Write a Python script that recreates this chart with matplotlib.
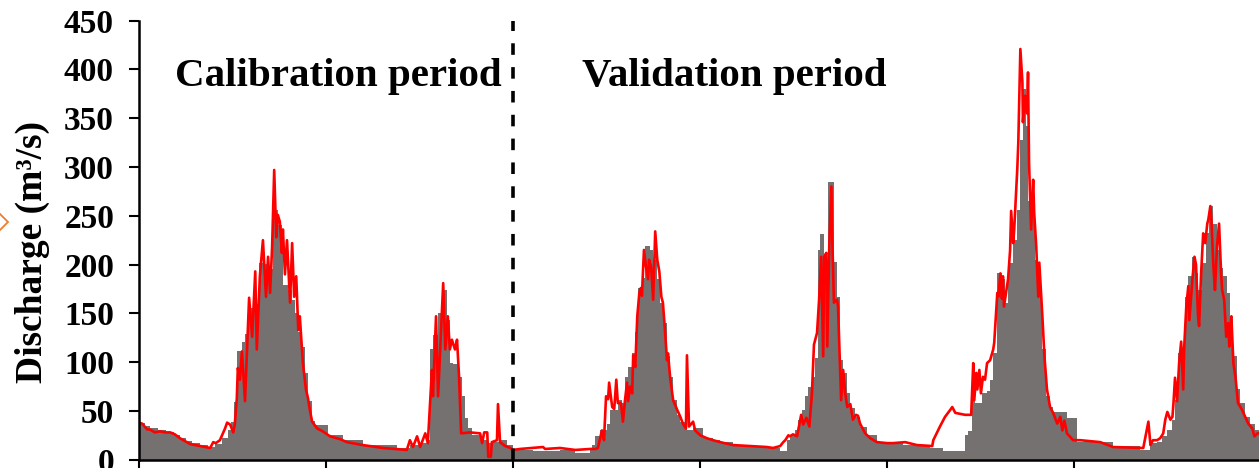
import matplotlib
matplotlib.use("Agg")
import matplotlib.pyplot as plt
from matplotlib.lines import Line2D

# ---------------- data (days since start of record, discharge m3/s) ----------------
obs_start_day = [0, 12, 21, 37, 53, 68, 80, 92, 104, 119, 135, 148, 162, 174, 180, 186,
                 191, 201, 207, 213, 217, 223, 230, 234, 246, 252, 262, 266, 271, 279,
                 281, 291, 299, 305, 311, 318, 324, 330, 338, 344, 369, 398, 437, 504,
                 529, 549, 562, 568, 574, 584, 594, 602, 607, 613, 623, 631, 637, 643,
                 650, 666, 680, 691, 705, 719, 730, 769, 822, 852, 881, 885, 891, 900,
                 914, 920, 935, 943, 949, 955, 963, 969, 975, 982, 988, 998, 1004, 1012,
                 1018, 1023, 1031, 1037, 1043, 1051, 1057, 1070, 1082, 1101, 1121, 1135,
                 1160, 1226, 1252, 1266, 1271, 1281, 1287, 1295, 1301, 1307, 1314, 1320,
                 1326, 1330, 1338, 1346, 1357, 1363, 1369, 1375, 1383, 1389, 1398, 1408,
                 1422, 1441, 1467, 1492, 1545, 1570, 1613, 1619, 1627, 1633, 1646, 1656,
                 1662, 1668, 1676, 1685, 1691, 1697, 1707, 1715, 1721, 1726, 1732, 1736,
                 1744, 1750, 1756, 1764, 1771, 1779, 1785, 1812, 1832, 1902, 1955, 1975,
                 1988, 1998, 2008, 2017, 2023, 2029, 2037, 2043, 2049, 2057, 2062, 2068,
                 2076, 2084, 2090, 2098, 2105, 2111, 2117, 2125, 2131, 2137, 2144, 2150,
                 2160, 2170, 2180]
obs_flow = [38, 35, 32, 30, 28, 25, 22, 19, 17, 15, 13, 16, 22, 30, 39, 59,
            111, 121, 129, 152, 156, 158, 160, 202, 201, 195, 297, 256, 241, 215,
            179, 174, 164, 150, 131, 116, 89, 60, 40, 36, 25, 20, 15, 12,
            15, 17, 20, 113, 128, 150, 174, 143, 99, 98, 85, 65, 43, 32,
            25, 20, 17, 18, 20, 15, 10, 9, 10, 7, 10, 15, 24, 30,
            37, 51, 61, 58, 85, 95, 109, 131, 176, 186, 219, 215, 205, 185,
            161, 140, 106, 85, 61, 46, 39, 30, 32, 22, 20, 18,
            14, 12, 9, 20, 24, 30, 41, 51, 65, 75, 85, 104,
            215, 231, 205, 285, 203, 167, 102, 89, 68, 53, 44, 34,
            25, 18, 17, 15, 12, 9, 25, 29, 61, 58, 68, 70,
            82, 109, 191, 185, 161, 202, 225, 256, 328, 380, 342, 265,
            250, 205, 167, 113, 65, 54, 49, 43, 18, 14, 10, 17,
            18, 24, 30, 41, 61, 109, 116, 167, 188, 208, 191, 174,
            202, 232, 260, 242, 215, 196, 188, 171, 147, 106, 72, 58,
            44, 37, 30]
record_end_day = 2191

sim_day = [0, 6, 16, 21, 31, 41, 51, 61, 70, 80, 90, 100, 119, 139, 145, 150, 158,
           168, 172, 178, 184, 187, 191, 193, 197, 201, 207, 215, 221, 227, 230, 236,
           242, 248, 252, 256, 260, 264, 268, 271, 275, 279, 281, 285, 289, 295, 299,
           303, 307, 311, 314, 320, 326, 330, 334, 338, 348, 359, 373, 393, 406, 437,
           477, 523, 529, 535, 543, 549, 559, 564, 572, 574, 580, 584, 594, 598, 603,
           607, 611, 617, 621, 625, 629, 646, 666, 670, 674, 680, 682, 687, 689, 699,
           701, 705, 715, 725, 730, 744, 789, 793, 822, 852, 881, 891, 896, 904, 908,
           912, 916, 918, 924, 928, 932, 935, 941, 945, 949, 953, 955, 959, 963, 965,
           969, 973, 977, 980, 982, 986, 990, 994, 996, 1000, 1004, 1008, 1012, 1016,
           1020, 1023, 1027, 1031, 1033, 1037, 1043, 1051, 1057, 1062, 1068, 1070, 1074,
           1082, 1086, 1096, 1109, 1121, 1135, 1160, 1226, 1238, 1252, 1258, 1262, 1268,
           1271, 1277, 1285, 1293, 1297, 1303, 1309, 1314, 1318, 1324, 1328, 1332, 1336,
           1338, 1342, 1344, 1348, 1352, 1354, 1357, 1363, 1365, 1371, 1375, 1379, 1383,
           1389, 1394, 1400, 1404, 1408, 1418, 1428, 1441, 1461, 1473, 1496, 1519, 1549,
           1551, 1564, 1574, 1584, 1588, 1594, 1603, 1613, 1625, 1629, 1631, 1635, 1637,
           1641, 1644, 1648, 1652, 1656, 1662, 1668, 1670, 1676, 1678, 1682, 1685, 1687,
           1689, 1695, 1697, 1701, 1703, 1707, 1709, 1715, 1717, 1721, 1725, 1726, 1730,
           1734, 1736, 1738, 1742, 1746, 1748, 1752, 1756, 1758, 1764, 1768, 1773, 1779,
           1785, 1793, 1799, 1803, 1807, 1812, 1824, 1838, 1857, 1877, 1902, 1961, 1971,
           1975, 1980, 1988, 1994, 2000, 2004, 2008, 2014, 2018, 2020, 2023, 2027, 2031,
           2035, 2039, 2041, 2045, 2049, 2051, 2057, 2061, 2064, 2068, 2070, 2074, 2078,
           2082, 2086, 2088, 2092, 2094, 2098, 2101, 2105, 2109, 2113, 2115, 2119, 2123,
           2127, 2129, 2133, 2137, 2141, 2146, 2154, 2160, 2166, 2174, 2178, 2184, 2187]
sim_flow = [38, 37, 31, 31, 28, 29, 28, 28, 26, 22, 19, 16, 14, 12, 18, 17, 20,
            32, 38, 36, 28, 36, 63, 94, 82, 111, 60, 166, 126, 193, 113, 188,
            225, 167, 208, 171, 219, 297, 228, 251, 244, 212, 236, 190, 225, 161, 222,
            167, 188, 133, 147, 99, 72, 63, 50, 39, 32, 29, 24, 21, 18, 15,
            12, 10, 20, 13, 24, 13, 27, 17, 92, 65, 147, 65, 181, 113, 147,
            113, 123, 113, 123, 85, 27, 28, 27, 17, 28, 28, 3, 3, 18, 20,
            57, 18, 14, 12, 10, 11, 13, 11, 12, 10, 11, 11, 12, 30, 20,
            65, 62, 79, 54, 52, 82, 58, 58, 39, 61, 79, 60, 75, 68, 107,
            95, 147, 171, 176, 168, 215, 198, 185, 205, 198, 164, 234, 205, 193,
            167, 161, 133, 102, 109, 85, 61, 51, 44, 37, 32, 107, 34,
            39, 30, 25, 22, 20, 18, 15, 13, 12, 14, 18, 20, 25,
            24, 26, 24, 46, 36, 43, 34, 68, 118, 130, 164, 208, 106,
            208, 212, 116, 222, 280, 222, 161, 164, 157, 61, 92, 68, 54,
            57, 41, 46, 45, 37, 27, 22, 18, 17, 17, 18, 15, 14,
            20, 34, 44, 51, 54, 48, 47, 46, 46, 99, 61, 89, 72,
            92, 68, 85, 82, 99, 102, 113, 120, 171, 167, 191, 165, 188,
            157, 178, 185, 215, 255, 222, 236, 298, 325, 421, 387, 346, 373,
            355, 397, 304, 236, 287, 253, 219, 167, 202, 147, 106, 72, 54,
            48, 37, 44, 30, 40, 27, 20, 20, 19, 18, 13, 12, 39,
            15, 20, 20, 22, 27, 41, 49, 41, 44, 58, 84, 60, 99,
            121, 72, 116, 157, 178, 143, 185, 208, 200, 147, 137, 191, 232,
            222, 242, 246, 260, 246, 198, 174, 219, 242, 191, 174, 164, 126,
            140, 116, 147, 99, 85, 58, 51, 44, 37, 32, 24, 27, 27]

split_day = 730
year_ticks = [0, 365.25, 730.5, 1095.75, 1461, 1826.25]
y_ticks = [0, 50, 100, 150, 200, 250, 300, 350, 400, 450]
label_cal = "Calibration period"
label_val = "Validation period"
y_label = "Discharge (m\u00b3/s)"

# ---------------- style ----------------
FONT = "Liberation Serif"
GREY = "#757171"
RED = "#FF0000"

W, H = 1259, 468
fig = plt.figure(figsize=(W / 100, H / 100), dpi=100)
ax = fig.add_axes([139 / W, 8.3 / H, 1120 / W, 439 / H])

obs_edges = obs_start_day + [record_end_day]
ax.stairs(obs_flow, obs_edges, fill=True, color=GREY, linewidth=0, zorder=1)
ax.plot(sim_day, sim_flow, color=RED, linewidth=1.9, zorder=3,
        solid_joinstyle="round")

ax.axvline(split_day, ymin=0, ymax=1, color="black", linewidth=2.6,
           dashes=(3.2, 3.4), zorder=4)

ax.set_xlim(0, 2187)
ax.set_ylim(0, 450)
ax.set_xticks(year_ticks)
ax.set_xticklabels([])
ax.set_yticks(y_ticks)
ax.set_yticklabels([str(v) for v in y_ticks], fontfamily=FONT, fontweight="bold",
                   fontsize=24)

for s in ["top", "right"]:
    ax.spines[s].set_visible(False)
for s in ["left", "bottom"]:
    ax.spines[s].set_linewidth(1.8)
    ax.spines[s].set_color("black")
    ax.spines[s].set_zorder(5)

ax.tick_params(axis="y", direction="out", length=7, width=1.5, pad=11)
ax.tick_params(axis="x", direction="out", length=7, width=1.5)

ax.set_ylabel(y_label, fontfamily=FONT, fontweight="bold", fontsize=27)
ax.yaxis.set_label_coords(-0.0795, 0.473)

ax.text(70, 383, label_cal, fontfamily=FONT, fontweight="bold", fontsize=29.5,
        ha="left", va="baseline")
ax.text(865, 383, label_val, fontfamily=FONT, fontweight="bold", fontsize=29.5,
        ha="left", va="baseline")

# small orange marker cut by the left edge (residue of the original figure)
fig.add_artist(Line2D([0], [(H - 222) / H], transform=fig.transFigure, marker="D",
                      markersize=8, markerfacecolor="none", markeredgecolor="#ED7D31",
                      markeredgewidth=1.3, linestyle="none", clip_on=False))

fig.savefig("out.png", dpi=100)
